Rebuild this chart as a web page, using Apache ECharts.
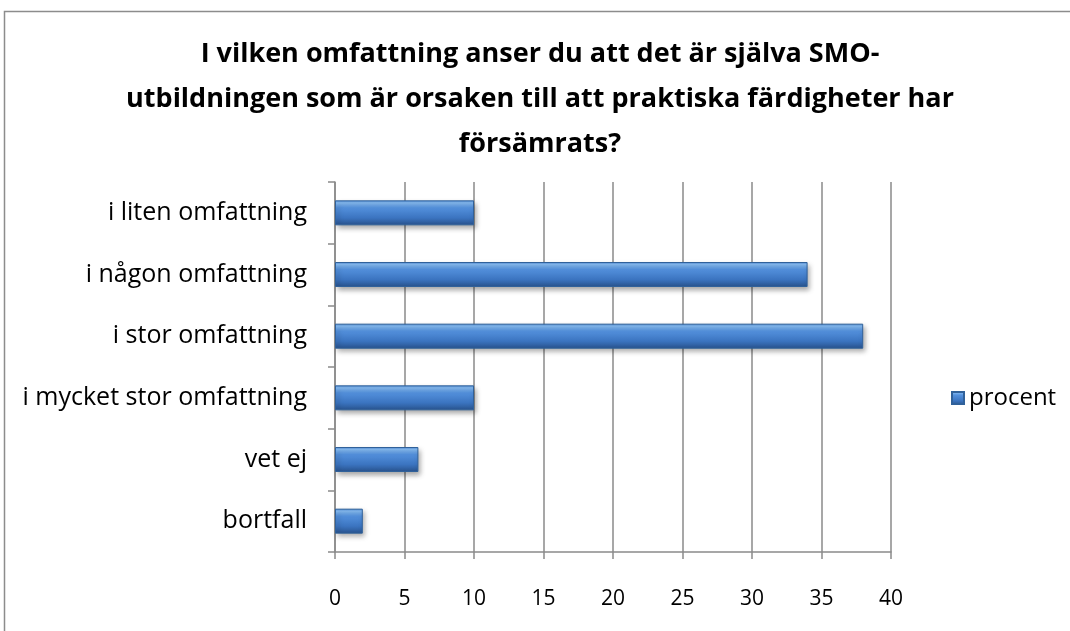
<!DOCTYPE html>
<html>
<head>
<meta charset="utf-8">
<script src="https://cdn.jsdelivr.net/npm/echarts@6/dist/echarts.min.js"></script>
<style>
  html, body { margin: 0; padding: 0; background: #fff; }
  #chart { width: 1070px; height: 631px; }
</style>
</head>
<body>
<div id="chart"></div>
<script>
// values
let categories = ['i liten omfattning', 'i någon omfattning', 'i stor omfattning', 'i mycket stor omfattning', 'vet ej', 'bortfall'];
let procent = [10, 34, 38, 10, 6, 2];
let xTicks = [0, 40, 5]; // min, max, interval

let titleText = 'I vilken omfattning anser du att det är själva SMO-\nutbildningen som är orsaken till att praktiska färdigheter har\nförsämrats?';

let fontFam = '"Open Sans", "Noto Sans", sans-serif';
let gridGrey = '#8a8a8a';

let barFill = new echarts.graphic.LinearGradient(0, 0, 0, 1, [
  { offset: 0, color: '#4f8ad6' },
  { offset: 0.1, color: '#86bcf3' },
  { offset: 0.3, color: '#5390dc' },
  { offset: 0.7, color: '#3b74c0' },
  { offset: 1, color: '#28528c' }
]);

let chart = echarts.init(document.getElementById('chart'), null, { renderer: 'canvas' });

let options = {
  backgroundColor: '#fff',
  animation: false,
  graphic: [{
    type: 'rect',
    shape: { x: 4.5, y: 11.5, width: 1200, height: 800 },
    style: { fill: 'none', stroke: '#8c8c8c', lineWidth: 1.5 },
    silent: true
  }],
  title: {
    text: titleText,
    left: 535,
    top: 27,
    textAlign: 'center',
    textStyle: {
      fontFamily: fontFam,
      fontWeight: 'bold',
      fontSize: 27,
      lineHeight: 45,
      color: '#000'
    }
  },
  legend: {
    data: ['procent'],
    left: 946,
    top: 381,
    icon: 'rect',
    itemWidth: 12,
    itemHeight: 12,
    textStyle: { fontFamily: fontFam, fontSize: 24, color: '#000' }
  },
  grid: {
    left: 335,
    right: 179,
    top: 182,
    bottom: 79,
    containLabel: false
  },
  xAxis: {
    type: 'value',
    min: xTicks[0],
    max: xTicks[1],
    interval: xTicks[2],
    axisLine: { show: true, lineStyle: { color: gridGrey, width: 1.5 } },
    axisTick: { show: true, length: 7, lineStyle: { color: gridGrey, width: 1.5 } },
    axisLabel: {
      margin: 37,
      fontFamily: fontFam,
      fontSize: 21,
      color: '#000'
    },
    splitLine: { show: true, lineStyle: { color: gridGrey, width: 1.5 } }
  },
  yAxis: {
    type: 'category',
    data: categories,
    inverse: true,
    axisLine: { show: true, lineStyle: { color: gridGrey, width: 1.5 } },
    axisTick: { show: true, length: 7, lineStyle: { color: gridGrey, width: 1.5 } },
    axisLabel: {
      margin: 28,
      fontFamily: fontFam,
      fontSize: 25,
      color: '#000'
    }
  },
  series: [{
    name: 'procent',
    type: 'bar',
    data: procent,
    barWidth: 25,
    itemStyle: {
      color: barFill,
      borderColor: '#30619a',
      borderWidth: 1,
      shadowColor: 'rgba(0,0,0,0.35)',
      shadowBlur: 5,
      shadowOffsetX: 2,
      shadowOffsetY: 3
    }
  }]
};

chart.setOption(options);
</script>
</body>
</html>
